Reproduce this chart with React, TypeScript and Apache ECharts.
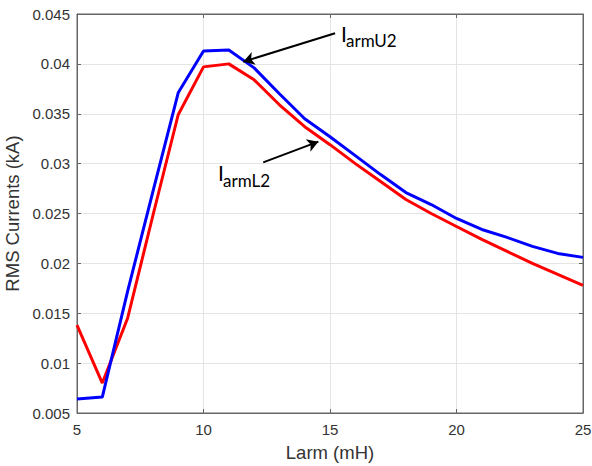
import React, { useEffect, useRef } from "react";
import * as echarts from "echarts";

// Inductance Larm (mH)
const larm = [5, 6, 7, 8, 9, 10, 11, 12, 13, 14, 15, 16, 17, 18, 19, 20, 21, 22, 23, 24, 25];
// RMS current I_armU2 (kA) - blue
const iArmU2 = [0.0064, 0.0066, 0.0172, 0.0272, 0.0371, 0.0413, 0.0414, 0.0396, 0.0370, 0.0345, 0.0327, 0.0308, 0.0289, 0.0271, 0.0259, 0.0245, 0.0234, 0.0226, 0.0217, 0.0210, 0.0206];
// RMS current I_armL2 (kA) - red
const iArmL2 = [0.0138, 0.0080, 0.0145, 0.0248, 0.0349, 0.0397, 0.0400, 0.0384, 0.0359, 0.0337, 0.0319, 0.0300, 0.0282, 0.0264, 0.0250, 0.0237, 0.0224, 0.0212, 0.0200, 0.0189, 0.0178];

// Annotation arrows in data coordinates: [fromX, fromY, toX, toY]
const arrowU2 = [15.2, 0.04307, 11.57, 0.04022];
const arrowL2 = [12.36, 0.03013, 14.54, 0.0322];

const xTicks = { min: 5, max: 25, interval: 5 };
const yTicks = { min: 0.005, max: 0.045, interval: 0.005 };

export default function App() {
  const ref = useRef<HTMLDivElement>(null);
  useEffect(() => {
    if (!ref.current) return;
    const chart = echarts.init(ref.current, undefined, { renderer: "svg" });
    const axisColor = "#666";
    const textColor = "#333";
    const gridColor = "#e4e4e4";
    const tickFont = "Liberation Sans, Arial, sans-serif";
    const annFont = "Lato, sans-serif";
    const fmt = (v: number) => String(+v.toFixed(3));
    chart.setOption({
      animation: false,
      backgroundColor: "#fff",
      grid: {
        left: 77,
        right: 9,
        top: 14,
        bottom: 53,
        containLabel: false,
        outerBoundsMode: "none",
        show: true,
        borderColor: axisColor,
        borderWidth: 1,
      },
      xAxis: [
        {
          type: "value",
          ...xTicks,
          name: "Larm (mH)",
          nameLocation: "middle",
          nameGap: 30,
          nameTextStyle: { fontSize: 18.5, color: textColor, fontFamily: tickFont },
          axisLine: { show: true, lineStyle: { color: axisColor } },
          axisTick: { show: true, inside: true, length: 4, lineStyle: { color: axisColor } },
          axisLabel: { fontSize: 15, color: textColor, margin: 9, fontFamily: tickFont },
          splitLine: { show: true, lineStyle: { color: gridColor } },
        },
        {
          type: "value",
          position: "top",
          ...xTicks,
          axisLine: { show: true, lineStyle: { color: axisColor } },
          axisTick: { show: true, inside: true, length: 4, lineStyle: { color: axisColor } },
          axisLabel: { show: false },
          splitLine: { show: false },
        },
      ],
      yAxis: [
        {
          type: "value",
          ...yTicks,
          name: "RMS Currents (kA)",
          nameLocation: "middle",
          nameGap: 49,
          nameTextStyle: { fontSize: 18.5, color: textColor, fontFamily: tickFont },
          axisLine: { show: true, lineStyle: { color: axisColor } },
          axisTick: { show: true, inside: true, length: 4, lineStyle: { color: axisColor } },
          axisLabel: { fontSize: 15, color: textColor, margin: 7, fontFamily: tickFont, formatter: fmt },
          splitLine: { show: true, lineStyle: { color: gridColor } },
        },
        {
          type: "value",
          position: "right",
          ...yTicks,
          axisLine: { show: true, lineStyle: { color: axisColor } },
          axisTick: { show: true, inside: true, length: 4, lineStyle: { color: axisColor } },
          axisLabel: { show: false },
          splitLine: { show: false },
        },
      ],
      series: [
        {
          type: "line",
          name: "IarmL2",
          data: larm.map((x, i) => [x, iArmL2[i]]),
          symbol: "none",
          color: "#ff0000",
          lineStyle: { color: "#ff0000", width: 3 },
          z: 3,
        },
        {
          type: "line",
          name: "IarmU2",
          data: larm.map((x, i) => [x, iArmU2[i]]),
          symbol: "none",
          color: "#0000ff",
          lineStyle: { color: "#0000ff", width: 3 },
          z: 4,
          markLine: {
            silent: true,
            symbol: ["none", "arrow"],
            symbolSize: [10, 11],
            label: { show: false },
            lineStyle: { color: "#000", width: 2, type: "solid" },
            emphasis: { disabled: true },
            data: [
              [{ coord: [arrowU2[0], arrowU2[1]] }, { coord: [arrowU2[2], arrowU2[3]] }],
              [{ coord: [arrowL2[0], arrowL2[1]] }, { coord: [arrowL2[2], arrowL2[3]] }],
            ],
          },
        },
      ],
      graphic: [
        { type: "text", x: 341, y: 33, style: { text: "I", fontSize: 21, fontFamily: annFont, fill: "#000", verticalAlign: "middle" } },
        { type: "text", x: 346, y: 40.5, style: { text: "armU2", fontSize: 17, fontFamily: annFont, fill: "#000", verticalAlign: "middle" } },
        { type: "text", x: 218, y: 172.5, style: { text: "I", fontSize: 21, fontFamily: annFont, fill: "#000", verticalAlign: "middle" } },
        { type: "text", x: 223, y: 180, style: { text: "armL2", fontSize: 17, fontFamily: annFont, fill: "#000", verticalAlign: "middle" } },
      ],
    });
    return () => chart.dispose();
  }, []);
  return (
    <div
      ref={ref}
      style={{ position: "fixed", left: 0, top: 0, width: 592, height: 466, background: "#fff" }}
    />
  );
}
